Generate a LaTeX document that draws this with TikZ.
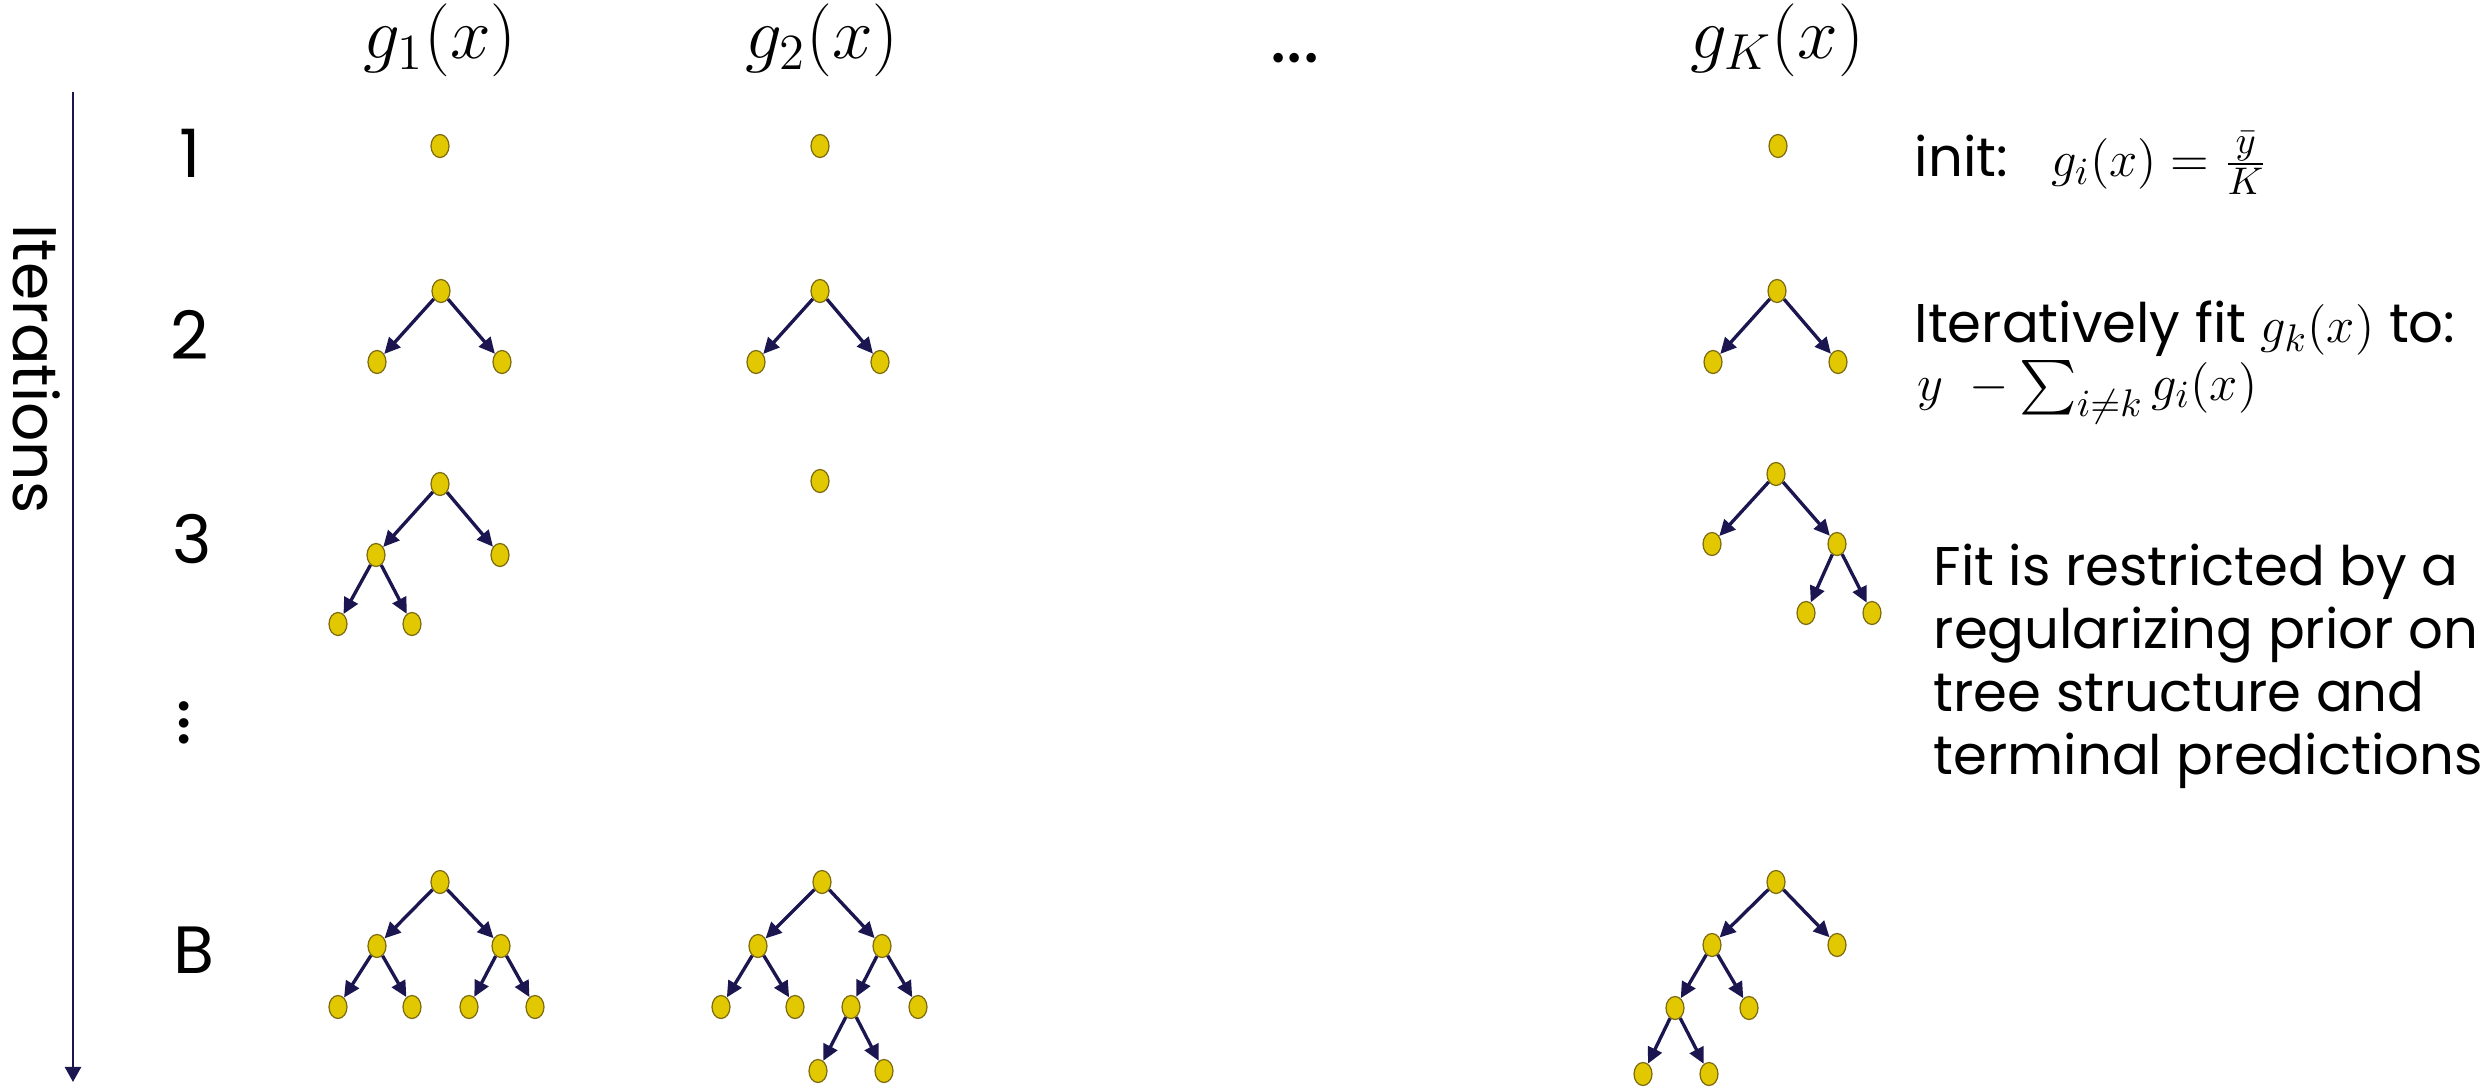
\documentclass[tikz,border=0pt]{standalone}
\usepackage{amsmath,amssymb}
\usepackage{fontspec}
\setmainfont{Poppins}
\usepackage{xcolor}
\usepackage{tikz}
\usetikzlibrary{arrows.meta,shapes.geometric}

\definecolor{nodefill}{HTML}{E2C800}
\definecolor{nodeline}{HTML}{7D6B12}
\definecolor{wire}{HTML}{1C1650}

\begin{document}
\begin{tikzpicture}[x=0.01cm,y=-0.01cm,
    nd/.style={ellipse, draw=nodeline, fill=nodefill, line width=0.35pt,
      minimum width=0.18cm, minimum height=0.23cm, inner sep=0pt},
    edge/.style={draw=wire, line width=0.95pt,
      -{Triangle[length=0.16cm,width=0.15cm]}},
    axis/.style={draw=wire, line width=0.7pt,
      -{Triangle[length=0.15cm,width=0.16cm]}},
    lbl/.style={font=\fontsize{19}{18}\selectfont, inner sep=0pt},
    dots/.style={font=\fontsize{22}{22}\selectfont, inner sep=0pt},
    head/.style={font=\fontsize{21}{21}\selectfont, inner sep=0pt},
    txt/.style={font=\fontsize{15.5}{17.9}\selectfont, inner sep=0pt}]
  \useasboundingbox (0,0) rectangle (2481,1088);

  % column heads
  \node[head] (h1) at (440,40) {$g_1(x)$};
  \node[head] (h2) at (822,40) {$g_2(x)$};
  \node[dots] (hdots) at (1295,58) {...};
  \node[head] (hK) at (1777,40) {$g_K(x)$};

  % iteration axis
  \node[lbl, font=\fontsize{17.5}{18}\selectfont, rotate=-90] (iter) at (37,369) {Iterations};
  \coordinate (atop) at (73,92);
  \coordinate (abot) at (73,1082);
  \draw[axis] (atop) -- (abot);

  % row labels
  \node[lbl] (r1) at (190,153) {1};
  \node[lbl] (r2) at (190,335) {2};
  \node[lbl] (r3) at (192,539) {3};
  \node[dots, rotate=90] (rdots) at (184,723) {...};
  \node[lbl] (rB) at (194,950) {B};

  % iteration 1
  \node[nd] (a1) at (440,146) {};
  \node[nd] (b1) at (820,146) {};
  \node[nd] (k1) at (1778,146) {};

  % iteration 2
  \node[nd] (a2) at (441,291) {};
  \node[nd] (a2l) at (377,362) {};
  \node[nd] (a2r) at (502,362) {};
  \node[nd] (b2) at (820,291) {};
  \node[nd] (b2l) at (756,362) {};
  \node[nd] (b2r) at (880,362) {};
  \node[nd] (k2) at (1777,291) {};
  \node[nd] (k2l) at (1713,362) {};
  \node[nd] (k2r) at (1838,362) {};
  \draw[edge] (a2) -- (a2l);
  \draw[edge] (a2) -- (a2r);
  \draw[edge] (b2) -- (b2l);
  \draw[edge] (b2) -- (b2r);
  \draw[edge] (k2) -- (k2l);
  \draw[edge] (k2) -- (k2r);

  % iteration 3
  \node[nd] (a3) at (440,484) {};
  \node[nd] (a3l) at (376,555) {};
  \node[nd] (a3r) at (500,555) {};
  \node[nd] (a3ll) at (338,624) {};
  \node[nd] (a3lr) at (412,624) {};
  \node[nd] (b3) at (820,481) {};
  \node[nd] (k3) at (1776,474) {};
  \node[nd] (k3l) at (1712,544) {};
  \node[nd] (k3r) at (1837,544) {};
  \node[nd] (k3rl) at (1806,613) {};
  \node[nd] (k3rr) at (1872,613) {};
  \draw[edge] (a3) -- (a3l);
  \draw[edge] (a3) -- (a3r);
  \draw[edge] (a3l) -- (a3ll);
  \draw[edge] (a3l) -- (a3lr);
  \draw[edge] (k3) -- (k3l);
  \draw[edge] (k3) -- (k3r);
  \draw[edge] (k3r) -- (k3rl);
  \draw[edge] (k3r) -- (k3rr);

  % iteration B
  \node[nd] (aB) at (440,882) {};
  \node[nd] (aBl) at (377,946) {};
  \node[nd] (aBr) at (501,946) {};
  \node[nd] (aBll) at (338,1007) {};
  \node[nd] (aBlr) at (412,1007) {};
  \node[nd] (aBrl) at (469,1007) {};
  \node[nd] (aBrr) at (535,1007) {};
  \draw[edge] (aB) -- (aBl);
  \draw[edge] (aB) -- (aBr);
  \draw[edge] (aBl) -- (aBll);
  \draw[edge] (aBl) -- (aBlr);
  \draw[edge] (aBr) -- (aBrl);
  \draw[edge] (aBr) -- (aBrr);

  \node[nd] (bB) at (822,882) {};
  \node[nd] (bBl) at (758,946) {};
  \node[nd] (bBr) at (882,946) {};
  \node[nd] (bBll) at (721,1007) {};
  \node[nd] (bBlr) at (795,1007) {};
  \node[nd] (bBrl) at (851,1007) {};
  \node[nd] (bBrr) at (918,1007) {};
  \node[nd] (bBrll) at (818,1071) {};
  \node[nd] (bBrlr) at (884,1071) {};
  \draw[edge] (bB) -- (bBl);
  \draw[edge] (bB) -- (bBr);
  \draw[edge] (bBl) -- (bBll);
  \draw[edge] (bBl) -- (bBlr);
  \draw[edge] (bBr) -- (bBrl);
  \draw[edge] (bBr) -- (bBrr);
  \draw[edge] (bBrl) -- (bBrll);
  \draw[edge] (bBrl) -- (bBrlr);

  \node[nd] (kB) at (1776,882) {};
  \node[nd] (kBl) at (1712,945) {};
  \node[nd] (kBr) at (1837,945) {};
  \node[nd] (kBll) at (1675,1008) {};
  \node[nd] (kBlr) at (1749,1008) {};
  \node[nd] (kBlll) at (1643,1074) {};
  \node[nd] (kBllr) at (1709,1074) {};
  \draw[edge] (kB) -- (kBl);
  \draw[edge] (kB) -- (kBr);
  \draw[edge] (kBl) -- (kBll);
  \draw[edge] (kBl) -- (kBlr);
  \draw[edge] (kBll) -- (kBlll);
  \draw[edge] (kBll) -- (kBllr);

  % notes on the right
  \node[txt, anchor=base west] (init) at (1914,177)
    {init:\hspace{0.8em}$g_i(x)=\frac{\bar{y}}{K}$};
  \node[txt, anchor=base west] (fit) at (1914,342)
    {Iteratively fit $g_k(x)$ to:};
  \node[txt, anchor=base west] (resid) at (1917,400)
    {$y\;-\sum_{i\neq k} g_i(x)$};
  \node[txt, anchor=west, align=left] (prior) at (1933,666)
    {Fit is restricted by a\\regularizing prior on\\tree structure and\\terminal predictions};
\end{tikzpicture}
\end{document}
